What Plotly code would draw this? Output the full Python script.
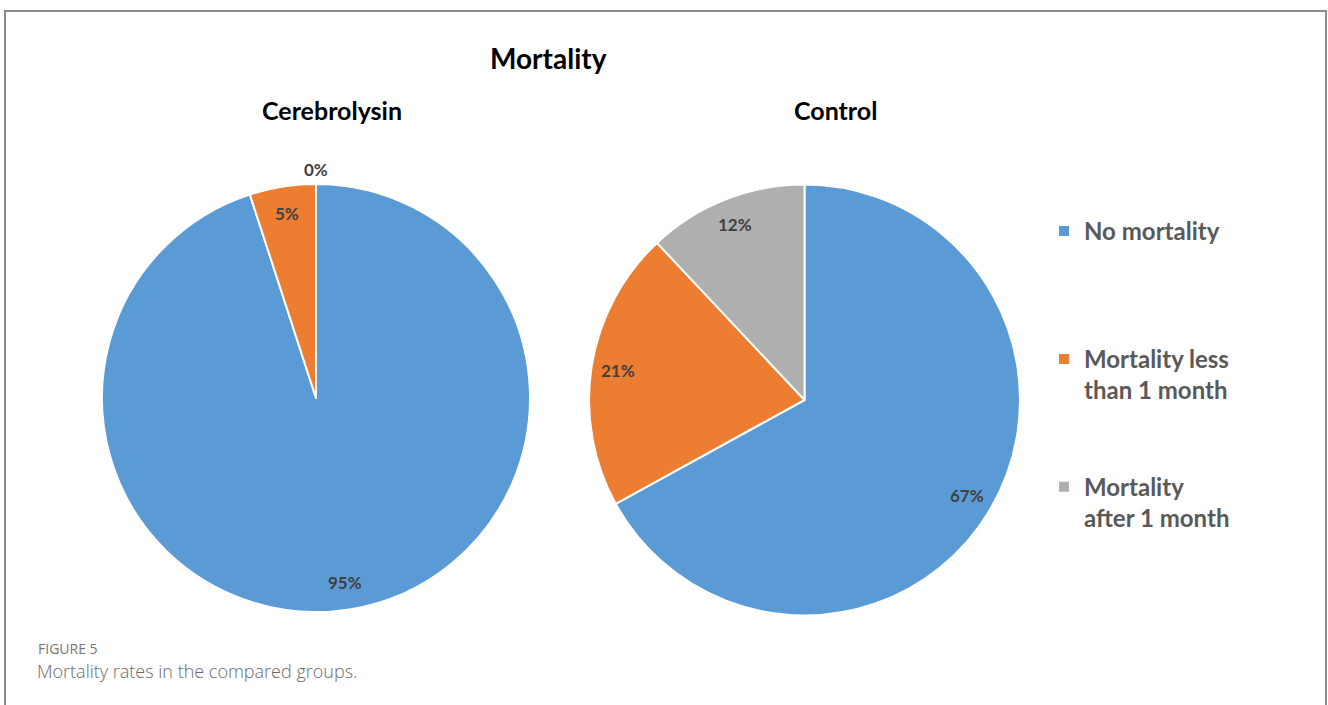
import math
import plotly.graph_objects as go

categories = ["No mortality", "Mortality less than 1 month", "Mortality after 1 month"]
legend_labels = ["No mortality<br> <br> <br> ", "Mortality less<br>than 1 month<br> <br> ", "Mortality<br>after 1 month"]
groups = ["Cerebrolysin", "Control"]
cerebrolysin = [95, 5, 0]
control = [67, 21, 12]
colors = ["#5B9BD5", "#ED7D31", "#AFAFAF"]

W, H = 1328, 705
FONT = "Lato"

def px(x):
    return x / W

def py(y):
    return 1 - y / H

# pie boxes in pixels (left, right, top, bottom)
boxes = [(102, 530, 184, 612), (589, 1020, 184, 616)]

fig = go.Figure()
for name, vals, (l, r, t, b) in zip(groups, [cerebrolysin, control], boxes):
    fig.add_trace(go.Pie(
        values=vals, labels=legend_labels, name=name,
        sort=False, direction="clockwise", rotation=0,
        marker=dict(colors=colors, line=dict(color="white", width=2)),
        textinfo="none",
        hovertemplate="%{label}: %{value}%<extra></extra>",
        domain=dict(x=[px(l), px(r)], y=[py(b), py(t)]),
    ))
    # data labels placed near the outer edge of each slice (like Excel "best fit")
    cx, cy = (l + r) / 2, (t + b) / 2
    R = min(r - l, b - t) / 2
    total = sum(vals)
    cum = 0
    for v in vals:
        mid = (cum + v / 2) / total * 2 * math.pi
        cum += v
        frac = 0.875 if v > 0 else 1.07
        x = cx + frac * R * math.sin(mid)
        y = cy - frac * R * math.cos(mid)
        fig.add_annotation(xref="paper", yref="paper", showarrow=False, xanchor="center", yanchor="middle",
                           x=px(x), y=py(y), text="<b>%d%%</b>" % v,
                           font=dict(family=FONT, size=17, color="#404040"))

ann = [
    dict(text="<b>Mortality</b>", x=px(548), y=py(58), font=dict(family=FONT, size=28, color="black")),
    dict(text="<b>Cerebrolysin</b>", x=px(332), y=py(110), font=dict(family=FONT, size=25, color="black")),
    dict(text="<b>Control</b>", x=px(836), y=py(110), font=dict(family=FONT, size=25, color="black")),
]
for a in ann:
    fig.add_annotation(xref="paper", yref="paper", showarrow=False, xanchor="center", yanchor="middle", **a)

fig.add_annotation(xref="paper", yref="paper", showarrow=False, xanchor="left", yanchor="middle",
                   x=px(36), y=py(648), text="FIGURE 5", font=dict(family="Open Sans", size=14, color="#777777"))
fig.add_annotation(xref="paper", yref="paper", showarrow=False, xanchor="left", yanchor="middle",
                   x=px(35), y=py(671), text="Mortality rates in the compared groups.",
                   font=dict(family="Open Sans", size=18, color="#6a6a6a", weight=300))

fig.add_shape(type="rect", xref="paper", yref="paper", x0=px(5), x1=px(1326), y0=py(720), y1=py(11),
              line=dict(color="#8a8a8a", width=2), fillcolor="rgba(0,0,0,0)")

fig.update_layout(
    width=W, height=H,
    margin=dict(l=0, r=0, t=0, b=0),
    paper_bgcolor="white", plot_bgcolor="white",
    font=dict(family=FONT),
    legend=dict(x=px(1044), y=py(209), xanchor="left", yanchor="top", valign="top",
                font=dict(family=FONT, size=24, color="#595959", weight="bold"),
                itemwidth=30, tracegroupgap=0),
)

fig.write_html("out.html")
